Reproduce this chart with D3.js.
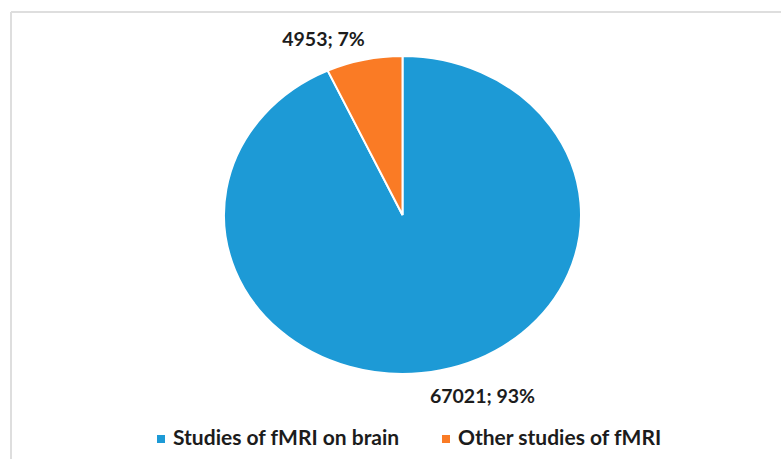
<!DOCTYPE html>
<html>
<head>
<meta charset="utf-8">
<script src="https://cdn.jsdelivr.net/npm/d3@7"></script>
<style>
  html, body { margin: 0; padding: 0; background: #fff; }
  svg text { font-family: Lato, "Open Sans", sans-serif; font-weight: 700; fill: #1c1c1c; }
</style>
</head>
<body>
<svg id="chart" width="781" height="459"></svg>
<script>
// Publication counts for fMRI studies
const categories = ["Studies of fMRI on brain", "Other studies of fMRI"];
const counts = [67021, 4953];
const percentLabels = ["93%", "7%"];
const colors = ["#1d9ad6", "#fa7b25"];

const svg = d3.select("#chart");
const W = 781, H = 459;

// chart frame (light gray edge on top and left)
svg.append("line").attr("x1", 11).attr("y1", 12).attr("x2", W).attr("y2", 12)
  .attr("stroke", "#dedede").attr("stroke-width", 2);
svg.append("line").attr("x1", 11).attr("y1", 12).attr("x2", 11).attr("y2", H)
  .attr("stroke", "#dedede").attr("stroke-width", 2);

// pie geometry (drawn slightly wider than tall)
const cx = 402.5, cy = 215, ry = 159, rx = 178.5;

const pie = d3.pie().sort(null).value(d => d.value).startAngle(0).endAngle(2 * Math.PI);
const data = categories.map((c, i) => ({ name: c, value: counts[i], pct: percentLabels[i], color: colors[i] }));
const arcs = pie(data);
const arc = d3.arc().innerRadius(0).outerRadius(ry);

const g = svg.append("g").attr("transform", `translate(${cx},${cy}) scale(${rx / ry},1)`);
g.selectAll("path.slice")
  .data(arcs)
  .join("path")
  .attr("class", "slice")
  .attr("d", arc)
  .attr("fill", d => d.data.color)
  .attr("stroke", "#fff")
  .attr("stroke-width", 2)
  .attr("vector-effect", "non-scaling-stroke");

// data labels: "value; percent"
const labelPos = [
  { x: cx + 80, y: cy + 188 },  // large slice, below right
  { x: cx - 79, y: cy - 169 }   // small slice, above left
];
svg.selectAll("text.dlabel")
  .data(arcs)
  .join("text")
  .attr("class", "dlabel")
  .attr("x", (d, i) => labelPos[i].x)
  .attr("y", (d, i) => labelPos[i].y)
  .attr("text-anchor", "middle")
  .attr("font-size", 19.5)
  .text(d => `${d.data.value}; ${d.data.pct}`);

// legend
const legendItems = [
  { x: 157, name: categories[0], color: colors[0] },
  { x: 442, name: categories[1], color: colors[1] }
];
const lg = svg.append("g");
legendItems.forEach(it => {
  lg.append("rect").attr("x", it.x).attr("y", 435).attr("width", 8).attr("height", 8).attr("fill", it.color);
  lg.append("text").attr("x", it.x + 16).attr("y", 445).attr("font-size", 21).text(it.name);
});
</script>
</body>
</html>
